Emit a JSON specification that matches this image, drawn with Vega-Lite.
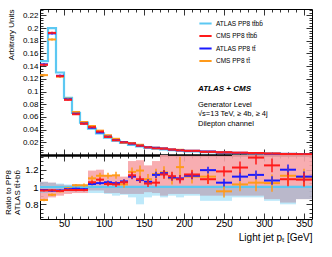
{
  "$schema": "https://vega.github.io/schema/vega-lite/v6.json",
  "background": "white",
  "padding": {"left": 4, "top": 8, "right": 5, "bottom": 5},
  "spacing": 0,
  "bounds": "flush",
  "config": {
    "font": "Liberation Sans",
    "view": {"stroke": "black", "strokeWidth": 1},
    "axis": {"grid": false, "domain": false, "tickColor": "black", "tickWidth": 0.8, "labelColor": "black", "titleColor": "black", "labelFont": "Liberation Sans", "titleFont": "Liberation Sans", "titleFontWeight": "normal"},
    "legend": {"title": null}
  },
  "datasets": {
    "bins": [
      {"lo": 20, "hi": 30, "a": 0.148, "cl": 0.93, "ch": 1.06, "pl": 0.84, "ph": 1.06},
      {"lo": 30, "hi": 40, "a": 0.2, "cl": 0.94, "ch": 1.05, "pl": 0.88, "ph": 1.05},
      {"lo": 40, "hi": 50, "a": 0.13, "cl": 0.95, "ch": 1.04, "pl": 0.9, "ph": 1.03},
      {"lo": 50, "hi": 60, "a": 0.09, "cl": 0.95, "ch": 1.03, "pl": 0.92, "ph": 1.02},
      {"lo": 60, "hi": 70, "a": 0.0665, "cl": 0.95, "ch": 1.03, "pl": 0.93, "ph": 1.03},
      {"lo": 70, "hi": 80, "a": 0.051, "cl": 0.95, "ch": 1.03, "pl": 0.93, "ph": 1.02},
      {"lo": 80, "hi": 90, "a": 0.0415, "cl": 0.93, "ch": 1.03, "pl": 0.96, "ph": 1.19},
      {"lo": 90, "hi": 100, "a": 0.034, "cl": 0.93, "ch": 1.02, "pl": 0.96, "ph": 1.2},
      {"lo": 100, "hi": 110, "a": 0.0275, "cl": 0.92, "ch": 1.02, "pl": 0.93, "ph": 1.13},
      {"lo": 110, "hi": 120, "a": 0.0225, "cl": 0.9, "ch": 1.02, "pl": 0.93, "ph": 1.13},
      {"lo": 120, "hi": 130, "a": 0.019, "cl": 0.91, "ch": 1.02, "pl": 0.92, "ph": 1.12},
      {"lo": 130, "hi": 140, "a": 0.016, "cl": 0.88, "ch": 1.02, "pl": 0.92, "ph": 1.3},
      {"lo": 140, "hi": 150, "a": 0.0135, "cl": 0.8, "ch": 1.02, "pl": 0.92, "ph": 1.31},
      {"lo": 150, "hi": 160, "a": 0.0115, "cl": 0.88, "ch": 1.02, "pl": 0.94, "ph": 1.25},
      {"lo": 160, "hi": 170, "a": 0.01, "cl": 0.9, "ch": 1.02, "pl": 0.93, "ph": 1.3},
      {"lo": 170, "hi": 180, "a": 0.0088, "cl": 0.88, "ch": 1.02, "pl": 0.9, "ph": 1.37},
      {"lo": 180, "hi": 190, "a": 0.0077, "cl": 0.9, "ch": 1.02, "pl": 0.92, "ph": 1.36},
      {"lo": 190, "hi": 200, "a": 0.0067, "cl": 0.88, "ch": 1.02, "pl": 0.92, "ph": 1.36},
      {"lo": 200, "hi": 220, "a": 0.0058, "cl": 0.9, "ch": 1.02, "pl": 0.92, "ph": 1.36},
      {"lo": 220, "hi": 240, "a": 0.0046, "cl": 0.84, "ch": 1.02, "pl": 0.9, "ph": 1.36},
      {"lo": 240, "hi": 260, "a": 0.0037, "cl": 0.84, "ch": 1.02, "pl": 0.9, "ph": 1.36},
      {"lo": 260, "hi": 280, "a": 0.003, "cl": 0.88, "ch": 1.02, "pl": 0.9, "ph": 1.37},
      {"lo": 280, "hi": 300, "a": 0.0024, "cl": 0.88, "ch": 1.02, "pl": 0.9, "ph": 1.37},
      {"lo": 300, "hi": 320, "a": 0.0019, "cl": 0.84, "ch": 1.02, "pl": 0.86, "ph": 1.37},
      {"lo": 320, "hi": 340, "a": 0.0015, "cl": 0.8, "ch": 1.02, "pl": 0.82, "ph": 1.37},
      {"lo": 340, "hi": 360, "a": 0.0012, "cl": 0.86, "ch": 1.02, "pl": 0.86, "ph": 1.37}
    ],
    "pts": [
      {"s": "CMS PP8 tt\u0304", "lo": 20, "hi": 30, "c": 25, "v": 0.1258, "e": 0.002, "r": 0.85, "re": 0.015},
      {"s": "CMS PP8 tt\u0304", "lo": 30, "hi": 40, "c": 35, "v": 0.182, "e": 0.002, "r": 0.91, "re": 0.015},
      {"s": "CMS PP8 tt\u0304", "lo": 40, "hi": 50, "c": 45, "v": 0.1235, "e": 0.002, "r": 0.95, "re": 0.015},
      {"s": "CMS PP8 tt\u0304", "lo": 50, "hi": 60, "c": 55, "v": 0.0887, "e": 0.0012, "r": 0.985, "re": 0.015},
      {"s": "CMS PP8 tt\u0304", "lo": 60, "hi": 70, "c": 65, "v": 0.0678, "e": 0.0012, "r": 1.02, "re": 0.015},
      {"s": "CMS PP8 tt\u0304", "lo": 70, "hi": 80, "c": 75, "v": 0.052, "e": 0.0012, "r": 1.02, "re": 0.02},
      {"s": "CMS PP8 tt\u0304", "lo": 80, "hi": 90, "c": 85, "v": 0.0457, "e": 0.0012, "r": 1.1, "re": 0.03},
      {"s": "CMS PP8 tt\u0304", "lo": 90, "hi": 100, "c": 95, "v": 0.0384, "e": 0.001, "r": 1.13, "re": 0.035},
      {"s": "CMS PP8 tt\u0304", "lo": 100, "hi": 110, "c": 105, "v": 0.0311, "e": 0.001, "r": 1.13, "re": 0.035},
      {"s": "CMS PP8 tt\u0304", "lo": 110, "hi": 120, "c": 115, "v": 0.0255, "e": 0.001, "r": 1.135, "re": 0.04},
      {"s": "CMS PP8 tt\u0304", "lo": 120, "hi": 130, "c": 125, "v": 0.0196, "e": 0.0008, "r": 1.03, "re": 0.04},
      {"s": "CMS PP8 tt\u0304", "lo": 130, "hi": 140, "c": 135, "v": 0.0188, "e": 0.0008, "r": 1.175, "re": 0.05},
      {"s": "CMS PP8 tt\u0304", "lo": 140, "hi": 150, "c": 145, "v": 0.0161, "e": 0.0008, "r": 1.19, "re": 0.06},
      {"s": "CMS PP8 tt\u0304", "lo": 150, "hi": 160, "c": 155, "v": 0.0125, "e": 0.0006, "r": 1.09, "re": 0.06},
      {"s": "CMS PP8 tt\u0304", "lo": 160, "hi": 170, "c": 165, "v": 0.0115, "e": 0.0006, "r": 1.15, "re": 0.06},
      {"s": "CMS PP8 tt\u0304", "lo": 170, "hi": 180, "c": 175, "v": 0.0103, "e": 0.0006, "r": 1.17, "re": 0.07},
      {"s": "CMS PP8 tt\u0304", "lo": 180, "hi": 190, "c": 185, "v": 0.0085, "e": 0.0006, "r": 1.1, "re": 0.07},
      {"s": "CMS PP8 tt\u0304", "lo": 190, "hi": 200, "c": 195, "v": 0.0082, "e": 0.0006, "r": 1.23, "re": 0.12},
      {"s": "CMS PP8 tt\u0304", "lo": 200, "hi": 220, "c": 210, "v": 0.0065, "e": 0.0005, "r": 1.12, "re": 0.08},
      {"s": "CMS PP8 tt\u0304", "lo": 220, "hi": 240, "c": 230, "v": 0.0052, "e": 0.0005, "r": 1.12, "re": 0.08},
      {"s": "CMS PP8 tt\u0304", "lo": 240, "hi": 260, "c": 250, "v": 0.0035, "e": 0.0005, "r": 0.95, "re": 0.07},
      {"s": "CMS PP8 tt\u0304", "lo": 260, "hi": 280, "c": 270, "v": 0.0031, "e": 0.0004, "r": 1.03, "re": 0.08},
      {"s": "CMS PP8 tt\u0304", "lo": 280, "hi": 300, "c": 290, "v": 0.0025, "e": 0.0004, "r": 1.05, "re": 0.1},
      {"s": "CMS PP8 tt\u0304", "lo": 300, "hi": 320, "c": 310, "v": 0.002, "e": 0.0004, "r": 1.045, "re": 0.1},
      {"s": "CMS PP8 tt\u0304", "lo": 320, "hi": 340, "c": 330, "v": 0.0017, "e": 0.0004, "r": 1.13, "re": 0.1},
      {"s": "CMS PP8 tt\u0304", "lo": 340, "hi": 360, "c": 350, "v": 0.0013, "e": 0.0004, "r": 1.11, "re": 0.1},
      {"s": "ATLAS PP8 tt\u0304", "lo": 20, "hi": 30, "c": 25, "v": 0.1428, "e": 0.002, "r": 0.965, "re": 0.01},
      {"s": "ATLAS PP8 tt\u0304", "lo": 30, "hi": 40, "c": 35, "v": 0.1916, "e": 0.002, "r": 0.958, "re": 0.01},
      {"s": "ATLAS PP8 tt\u0304", "lo": 40, "hi": 50, "c": 45, "v": 0.1248, "e": 0.002, "r": 0.96, "re": 0.01},
      {"s": "ATLAS PP8 tt\u0304", "lo": 50, "hi": 60, "c": 55, "v": 0.0878, "e": 0.0012, "r": 0.975, "re": 0.01},
      {"s": "ATLAS PP8 tt\u0304", "lo": 60, "hi": 70, "c": 65, "v": 0.0652, "e": 0.0012, "r": 0.98, "re": 0.012},
      {"s": "ATLAS PP8 tt\u0304", "lo": 70, "hi": 80, "c": 75, "v": 0.0497, "e": 0.0012, "r": 0.975, "re": 0.012},
      {"s": "ATLAS PP8 tt\u0304", "lo": 80, "hi": 90, "c": 85, "v": 0.043, "e": 0.001, "r": 1.035, "re": 0.015},
      {"s": "ATLAS PP8 tt\u0304", "lo": 90, "hi": 100, "c": 95, "v": 0.0355, "e": 0.001, "r": 1.045, "re": 0.02},
      {"s": "ATLAS PP8 tt\u0304", "lo": 100, "hi": 110, "c": 105, "v": 0.029, "e": 0.001, "r": 1.055, "re": 0.02},
      {"s": "ATLAS PP8 tt\u0304", "lo": 110, "hi": 120, "c": 115, "v": 0.0235, "e": 0.001, "r": 1.045, "re": 0.02},
      {"s": "ATLAS PP8 tt\u0304", "lo": 120, "hi": 130, "c": 125, "v": 0.0202, "e": 0.0008, "r": 1.065, "re": 0.025},
      {"s": "ATLAS PP8 tt\u0304", "lo": 130, "hi": 140, "c": 135, "v": 0.0179, "e": 0.0008, "r": 1.12, "re": 0.03},
      {"s": "ATLAS PP8 tt\u0304", "lo": 140, "hi": 150, "c": 145, "v": 0.0146, "e": 0.0008, "r": 1.08, "re": 0.03},
      {"s": "ATLAS PP8 tt\u0304", "lo": 150, "hi": 160, "c": 155, "v": 0.0122, "e": 0.0006, "r": 1.06, "re": 0.03},
      {"s": "ATLAS PP8 tt\u0304", "lo": 160, "hi": 170, "c": 165, "v": 0.0114, "e": 0.0006, "r": 1.14, "re": 0.035},
      {"s": "ATLAS PP8 tt\u0304", "lo": 170, "hi": 180, "c": 175, "v": 0.0102, "e": 0.0006, "r": 1.16, "re": 0.035},
      {"s": "ATLAS PP8 tt\u0304", "lo": 180, "hi": 190, "c": 185, "v": 0.0085, "e": 0.0006, "r": 1.11, "re": 0.035},
      {"s": "ATLAS PP8 tt\u0304", "lo": 190, "hi": 200, "c": 195, "v": 0.0074, "e": 0.0006, "r": 1.1, "re": 0.04},
      {"s": "ATLAS PP8 tt\u0304", "lo": 200, "hi": 220, "c": 210, "v": 0.0066, "e": 0.0005, "r": 1.13, "re": 0.04},
      {"s": "ATLAS PP8 tt\u0304", "lo": 220, "hi": 240, "c": 230, "v": 0.0055, "e": 0.0005, "r": 1.195, "re": 0.04},
      {"s": "ATLAS PP8 tt\u0304", "lo": 240, "hi": 260, "c": 250, "v": 0.0039, "e": 0.0005, "r": 1.05, "re": 0.045},
      {"s": "ATLAS PP8 tt\u0304", "lo": 260, "hi": 280, "c": 270, "v": 0.0034, "e": 0.0004, "r": 1.12, "re": 0.05},
      {"s": "ATLAS PP8 tt\u0304", "lo": 280, "hi": 300, "c": 290, "v": 0.0027, "e": 0.0004, "r": 1.14, "re": 0.05},
      {"s": "ATLAS PP8 tt\u0304", "lo": 300, "hi": 320, "c": 310, "v": 0.002, "e": 0.0004, "r": 1.075, "re": 0.05},
      {"s": "ATLAS PP8 tt\u0304", "lo": 320, "hi": 340, "c": 330, "v": 0.0018, "e": 0.0004, "r": 1.2, "re": 0.06},
      {"s": "ATLAS PP8 tt\u0304", "lo": 340, "hi": 360, "c": 350, "v": 0.0013, "e": 0.0004, "r": 1.12, "re": 0.06},
      {"s": "CMS PP8 tt\u0304bb\u0304", "lo": 20, "hi": 30, "c": 25, "v": 0.1421, "e": 0.002, "r": 0.96, "re": 0.012},
      {"s": "CMS PP8 tt\u0304bb\u0304", "lo": 30, "hi": 40, "c": 35, "v": 0.1924, "e": 0.002, "r": 0.962, "re": 0.012},
      {"s": "CMS PP8 tt\u0304bb\u0304", "lo": 40, "hi": 50, "c": 45, "v": 0.1242, "e": 0.002, "r": 0.955, "re": 0.012},
      {"s": "CMS PP8 tt\u0304bb\u0304", "lo": 50, "hi": 60, "c": 55, "v": 0.0869, "e": 0.0012, "r": 0.965, "re": 0.012},
      {"s": "CMS PP8 tt\u0304bb\u0304", "lo": 60, "hi": 70, "c": 65, "v": 0.0642, "e": 0.0012, "r": 0.965, "re": 0.015},
      {"s": "CMS PP8 tt\u0304bb\u0304", "lo": 70, "hi": 80, "c": 75, "v": 0.0492, "e": 0.0012, "r": 0.965, "re": 0.015},
      {"s": "CMS PP8 tt\u0304bb\u0304", "lo": 80, "hi": 90, "c": 85, "v": 0.0438, "e": 0.001, "r": 1.055, "re": 0.02},
      {"s": "CMS PP8 tt\u0304bb\u0304", "lo": 90, "hi": 100, "c": 95, "v": 0.0369, "e": 0.001, "r": 1.085, "re": 0.025},
      {"s": "CMS PP8 tt\u0304bb\u0304", "lo": 100, "hi": 110, "c": 105, "v": 0.0285, "e": 0.001, "r": 1.035, "re": 0.025},
      {"s": "CMS PP8 tt\u0304bb\u0304", "lo": 110, "hi": 120, "c": 115, "v": 0.0232, "e": 0.001, "r": 1.03, "re": 0.03},
      {"s": "CMS PP8 tt\u0304bb\u0304", "lo": 120, "hi": 130, "c": 125, "v": 0.02, "e": 0.0008, "r": 1.055, "re": 0.03},
      {"s": "CMS PP8 tt\u0304bb\u0304", "lo": 130, "hi": 140, "c": 135, "v": 0.0182, "e": 0.0008, "r": 1.135, "re": 0.04},
      {"s": "CMS PP8 tt\u0304bb\u0304", "lo": 140, "hi": 150, "c": 145, "v": 0.0147, "e": 0.0008, "r": 1.09, "re": 0.04},
      {"s": "CMS PP8 tt\u0304bb\u0304", "lo": 150, "hi": 160, "c": 155, "v": 0.012, "e": 0.0006, "r": 1.04, "re": 0.04},
      {"s": "CMS PP8 tt\u0304bb\u0304", "lo": 160, "hi": 170, "c": 165, "v": 0.0105, "e": 0.0006, "r": 1.05, "re": 0.045},
      {"s": "CMS PP8 tt\u0304bb\u0304", "lo": 170, "hi": 180, "c": 175, "v": 0.0101, "e": 0.0006, "r": 1.145, "re": 0.05},
      {"s": "CMS PP8 tt\u0304bb\u0304", "lo": 180, "hi": 190, "c": 185, "v": 0.0087, "e": 0.0006, "r": 1.125, "re": 0.05},
      {"s": "CMS PP8 tt\u0304bb\u0304", "lo": 190, "hi": 200, "c": 195, "v": 0.0073, "e": 0.0006, "r": 1.09, "re": 0.05},
      {"s": "CMS PP8 tt\u0304bb\u0304", "lo": 200, "hi": 220, "c": 210, "v": 0.0066, "e": 0.0005, "r": 1.145, "re": 0.05},
      {"s": "CMS PP8 tt\u0304bb\u0304", "lo": 220, "hi": 240, "c": 230, "v": 0.005, "e": 0.0005, "r": 1.09, "re": 0.055},
      {"s": "CMS PP8 tt\u0304bb\u0304", "lo": 240, "hi": 260, "c": 250, "v": 0.0044, "e": 0.0005, "r": 1.18, "re": 0.06},
      {"s": "CMS PP8 tt\u0304bb\u0304", "lo": 260, "hi": 280, "c": 270, "v": 0.0037, "e": 0.0004, "r": 1.225, "re": 0.07},
      {"s": "CMS PP8 tt\u0304bb\u0304", "lo": 280, "hi": 300, "c": 290, "v": 0.0032, "e": 0.0004, "r": 1.34, "re": 0.08},
      {"s": "CMS PP8 tt\u0304bb\u0304", "lo": 300, "hi": 320, "c": 310, "v": 0.0024, "e": 0.0004, "r": 1.25, "re": 0.08},
      {"s": "CMS PP8 tt\u0304bb\u0304", "lo": 320, "hi": 340, "c": 330, "v": 0.0016, "e": 0.0004, "r": 1.09, "re": 0.08},
      {"s": "CMS PP8 tt\u0304bb\u0304", "lo": 340, "hi": 360, "c": 350, "v": 0.0013, "e": 0.0004, "r": 1.085, "re": 0.08}
    ],
    "one": [{}]
  },
  "resolve": {"legend": {"color": "independent"}},
  "vconcat": [
    {
      "width": 272,
      "height": 146,
      "resolve": {"axis": {"x": "independent", "y": "independent"}},
      "layer": [
        {
          "data": {"name": "bins"},
          "transform": [{"fold": ["lo", "hi"], "as": ["edge", "xe"]}],
          "mark": {"type": "line", "strokeWidth": 2.2, "clip": true},
          "encoding": {
            "x": {"field": "xe", "type": "quantitative", "scale": {"domain": [20, 360], "nice": false, "zero": false},
              "axis": {"orient": "bottom", "values": [50, 100, 150, 200, 250, 300, 350], "labels": false, "tickSize": -6, "domain": true, "domainWidth": 2.5, "domainColor": "black", "title": null}},
            "y": {"field": "a", "type": "quantitative", "scale": {"domain": [0, 0.23], "nice": false},
              "axis": {"orient": "left", "values": [0.02, 0.04, 0.06, 0.08, 0.1, 0.12, 0.14, 0.16, 0.18, 0.2, 0.22], "format": "~g", "tickSize": -6, "labelPadding": 8, "labelFontSize": 8, "title": "Arbitrary Units", "titleFontSize": 8, "titleAnchor": "end", "titlePadding": 7}},
            "order": [{"field": "xe"}, {"field": "edge"}],
            "color": {"datum": "ATLAS PP8 tt\u0304bb\u0304",
              "scale": {"domain": ["ATLAS PP8 tt\u0304bb\u0304", "CMS PP8 tt\u0304bb\u0304", "ATLAS PP8 tt\u0304", "CMS PP8 tt\u0304"], "range": ["#5cc8f2", "#ff1a1a", "#1a1aff", "#ff9a1a"]},
              "legend": {"orient": "none", "legendX": 158, "legendY": 7, "title": null, "labelFontSize": 6.5, "labelFont": "Liberation Sans", "symbolType": "stroke", "symbolStrokeWidth": 2, "symbolSize": 150, "rowPadding": 0.5, "labelOffset": 3, "padding": 0}}
          }
        },
        {
          "data": {"name": "pts"},
          "mark": {"type": "rule", "strokeWidth": 2},
          "encoding": {
            "x": {"field": "lo", "type": "quantitative", "axis": {"orient": "top", "values": [50, 100, 150, 200, 250, 300, 350], "labels": false, "tickSize": -6, "title": null}},
            "x2": {"field": "hi"},
            "y": {"field": "v", "type": "quantitative", "axis": {"orient": "right", "values": [0.02, 0.04, 0.06, 0.08, 0.1, 0.12, 0.14, 0.16, 0.18, 0.2, 0.22], "labels": false, "tickSize": -6, "title": null}},
            "color": {"field": "s", "type": "nominal", "title": null}
          }
        },
        {
          "data": {"name": "pts"},
          "mark": {"type": "errorbar", "ticks": false, "thickness": 1},
          "encoding": {
            "x": {"field": "c", "type": "quantitative", "axis": {"orient": "bottom", "values": [30, 40, 60, 70, 80, 90, 110, 120, 130, 140, 160, 170, 180, 190, 210, 220, 230, 240, 260, 270, 280, 290, 310, 320, 330, 340], "labels": false, "tickSize": -3, "title": null}},
            "y": {"field": "v", "type": "quantitative", "axis": {"orient": "left", "values": [0.004, 0.008, 0.012, 0.016, 0.024, 0.028, 0.032, 0.036, 0.044, 0.048, 0.052, 0.056, 0.064, 0.068, 0.072, 0.076, 0.084, 0.088, 0.092, 0.096, 0.104, 0.108, 0.112, 0.116, 0.124, 0.128, 0.132, 0.136, 0.144, 0.148, 0.152, 0.156, 0.164, 0.168, 0.172, 0.176, 0.184, 0.188, 0.192, 0.196, 0.204, 0.208, 0.212, 0.216, 0.224, 0.228], "labels": false, "tickSize": -3, "title": null}},
            "yError": {"field": "e"},
            "color": {"field": "s", "type": "nominal", "title": null}
          }
        },
        {
          "data": {"name": "one"},
          "mark": {"type": "text", "font": "Liberation Sans", "fontWeight": "bold", "fontStyle": "italic", "fontSize": 8, "align": "left", "baseline": "middle"},
          "encoding": {
            "x": {"datum": 217.5, "type": "quantitative", "axis": {"orient": "top", "values": [30, 40, 60, 70, 80, 90, 110, 120, 130, 140, 160, 170, 180, 190, 210, 220, 230, 240, 260, 270, 280, 290, 310, 320, 330, 340], "labels": false, "tickSize": -3, "title": null}},
            "y": {"datum": 0.1045, "type": "quantitative", "axis": {"orient": "right", "values": [0.004, 0.008, 0.012, 0.016, 0.024, 0.028, 0.032, 0.036, 0.044, 0.048, 0.052, 0.056, 0.064, 0.068, 0.072, 0.076, 0.084, 0.088, 0.092, 0.096, 0.104, 0.108, 0.112, 0.116, 0.124, 0.128, 0.132, 0.136, 0.144, 0.148, 0.152, 0.156, 0.164, 0.168, 0.172, 0.176, 0.184, 0.188, 0.192, 0.196, 0.204, 0.208, 0.212, 0.216, 0.224, 0.228], "labels": false, "tickSize": -3, "title": null}},
            "text": {"value": "ATLAS + CMS"}
          }
        },
        {
          "data": {"name": "one"},
          "mark": {"type": "text", "font": "Liberation Sans", "fontSize": 7.5, "align": "left", "baseline": "middle", "lineHeight": 9.8},
          "encoding": {
            "x": {"datum": 217.5, "type": "quantitative", "axis": null},
            "y": {"datum": 0.0795, "type": "quantitative", "axis": null},
            "text": {"value": ["Generator Level", "\u221as=13 TeV, \u2265 4b, \u2265 4j", "Dilepton channel"]}
          }
        }
      ]
    },
    {
      "width": 272,
      "height": 64,
      "resolve": {"axis": {"x": "independent", "y": "independent"}},
      "layer": [
        {
          "data": {"name": "bins"},
          "mark": {"type": "rect", "color": "#f7a4a8", "opacity": 0.9, "clip": true},
          "encoding": {
            "x": {"field": "lo", "type": "quantitative", "scale": {"domain": [20, 360], "nice": false, "zero": false},
              "axis": {"orient": "bottom", "values": [50, 100, 150, 200, 250, 300, 350], "tickSize": -6, "labelPadding": 5, "labelFontSize": 10, "title": "Light jet p\u209c [GeV]", "titleFontSize": 10, "titleAnchor": "end", "titlePadding": 4}},
            "x2": {"field": "hi"},
            "y": {"field": "pl", "type": "quantitative", "scale": {"domain": [0.63, 1.37], "nice": false, "zero": false},
              "axis": {"orient": "left", "values": [0.8, 1, 1.2], "format": "~g", "tickSize": -6, "labelPadding": 8, "labelFontSize": 9.5, "title": ["Ratio to PP8", "ATLAS tt\u0304+bb\u0304"], "titleFontSize": 8, "titleLineHeight": 9, "titlePadding": 3, "titleY": 37}},
            "y2": {"field": "ph"}
          }
        },
        {
          "data": {"name": "bins"},
          "mark": {"type": "rect", "color": "#5cc8f2", "opacity": 0.4, "clip": true},
          "encoding": {
            "x": {"field": "lo", "type": "quantitative", "axis": {"orient": "top", "values": [50, 100, 150, 200, 250, 300, 350], "labels": false, "tickSize": -6, "title": null}},
            "x2": {"field": "hi"},
            "y": {"field": "cl", "type": "quantitative", "axis": {"orient": "right", "values": [0.8, 1, 1.2], "labels": false, "tickSize": -6, "title": null}},
            "y2": {"field": "ch"}
          }
        },
        {
          "data": {"name": "one"},
          "mark": {"type": "rule", "color": "#5cc8f2", "strokeWidth": 2},
          "encoding": {
            "y": {"datum": 1, "type": "quantitative", "axis": {"orient": "left", "values": [0.65, 0.7, 0.75, 0.85, 0.9, 0.95, 1.05, 1.1, 1.15, 1.25, 1.3, 1.35], "labels": false, "tickSize": -3, "title": null}}
          }
        },
        {
          "data": {"name": "pts"},
          "mark": {"type": "rule", "strokeWidth": 2, "clip": true},
          "encoding": {
            "x": {"field": "lo", "type": "quantitative", "axis": {"orient": "bottom", "values": [30, 40, 60, 70, 80, 90, 110, 120, 130, 140, 160, 170, 180, 190, 210, 220, 230, 240, 260, 270, 280, 290, 310, 320, 330, 340], "labels": false, "tickSize": -3, "title": null}},
            "x2": {"field": "hi"},
            "y": {"field": "r", "type": "quantitative", "axis": {"orient": "right", "values": [0.65, 0.7, 0.75, 0.85, 0.9, 0.95, 1.05, 1.1, 1.15, 1.25, 1.3, 1.35], "labels": false, "tickSize": -3, "title": null}},
            "color": {"field": "s", "type": "nominal", "legend": null}
          }
        },
        {
          "data": {"name": "pts"},
          "mark": {"type": "errorbar", "ticks": false, "thickness": 1.5, "clip": true},
          "encoding": {
            "x": {"field": "c", "type": "quantitative", "axis": {"orient": "top", "values": [30, 40, 60, 70, 80, 90, 110, 120, 130, 140, 160, 170, 180, 190, 210, 220, 230, 240, 260, 270, 280, 290, 310, 320, 330, 340], "labels": false, "tickSize": -3, "title": null}},
            "y": {"field": "r", "type": "quantitative", "axis": null},
            "yError": {"field": "re"},
            "color": {"field": "s", "type": "nominal", "legend": null}
          }
        }
      ]
    }
  ]
}
